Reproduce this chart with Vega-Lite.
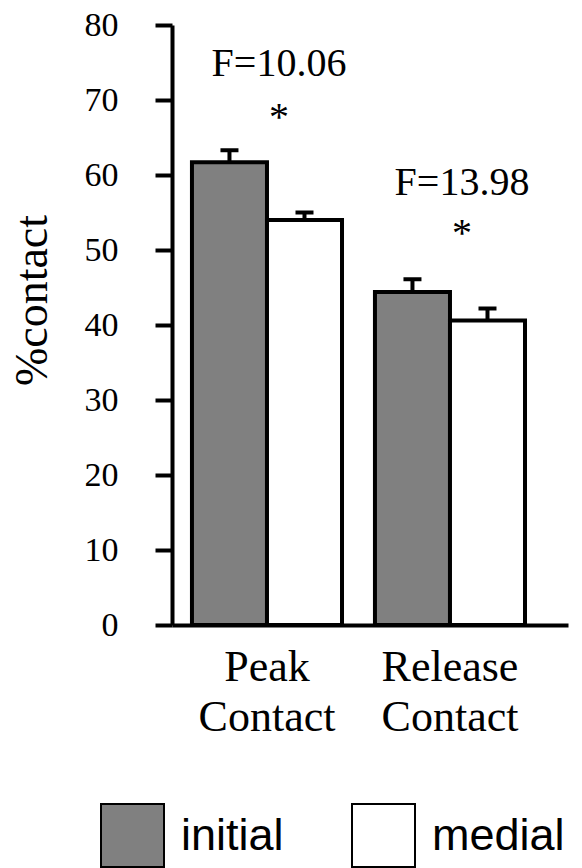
{
  "$schema": "https://vega.github.io/schema/vega-lite/v6.json",
  "width": 396,
  "height": 600,
  "autosize": "none",
  "padding": {"left": 172, "top": 25, "right": 14, "bottom": 243},
  "background": "white",
  "config": {"view": {"stroke": null}, "font": "Liberation Serif"},
  "datasets": {
    "bars": [
      {"group": "Peak Contact", "type": "initial", "value": 61.7, "upper": 63.3},
      {"group": "Peak Contact", "type": "medial", "value": 54.0, "upper": 55.0},
      {"group": "Release Contact", "type": "initial", "value": 44.4, "upper": 46.1},
      {"group": "Release Contact", "type": "medial", "value": 40.6, "upper": 42.2}
    ],
    "notes": [
      {"group": "Peak Contact", "label": "F=10.06", "y": 73.2},
      {"group": "Peak Contact", "label": "*", "y": 66.0},
      {"group": "Release Contact", "label": "F=13.98", "y": 57.3},
      {"group": "Release Contact", "label": "*", "y": 50.6}
    ]
  },
  "layer": [
    {
      "data": {"name": "bars"},
      "mark": {"type": "rule", "stroke": "black", "strokeWidth": 4},
      "encoding": {
        "x": {"field": "group", "type": "nominal"},
        "xOffset": {"field": "type", "type": "nominal"},
        "y": {"field": "value", "type": "quantitative"},
        "y2": {"field": "upper"}
      }
    },
    {
      "data": {"name": "bars"},
      "mark": {"type": "tick", "color": "black", "thickness": 4, "size": 18, "opacity": 1},
      "encoding": {
        "x": {"field": "group", "type": "nominal"},
        "xOffset": {"field": "type", "type": "nominal"},
        "y": {"field": "upper", "type": "quantitative"}
      }
    },
    {
      "data": {"name": "bars"},
      "mark": {"type": "bar", "stroke": "black", "strokeWidth": 4, "opacity": 1},
      "encoding": {
        "x": {
          "field": "group", "type": "nominal", "sort": null,
          "scale": {"paddingInner": 0.18, "paddingOuter": 0.172, "align": 0.317},
          "axis": {
            "title": null,
            "labelAngle": 0,
            "labelAlign": "center",
            "labelBaseline": "top",
            "labelExpr": "split(datum.label, ' ')",
            "labelFont": "Liberation Serif",
            "labelFontSize": 44,
            "labelColor": "black",
            "labelLineHeight": 50,
            "labelPadding": 20,
            "ticks": false,
            "domainColor": "black",
            "domainWidth": 4
          }
        },
        "xOffset": {"field": "type", "type": "nominal", "sort": ["initial", "medial"], "scale": {"paddingInner": 0, "paddingOuter": 0}},
        "y": {
          "field": "value", "type": "quantitative",
          "scale": {"domain": [0, 80], "nice": false},
          "axis": {
            "title": "%contact",
            "titleFont": "Liberation Serif",
            "titleFontSize": 46,
            "titleFontWeight": "normal",
            "titleColor": "black",
            "titleX": -140,
            "titleY": 275,
            "titleAngle": -90,
            "titleAlign": "center",
            "titleBaseline": "middle",
            "values": [0, 10, 20, 30, 40, 50, 60, 70, 80],
            "grid": false,
            "labelFont": "Liberation Serif",
            "labelFontSize": 34,
            "labelColor": "black",
            "labelPadding": 37,
            "tickSize": 17,
            "tickWidth": 4,
            "tickColor": "black",
            "domainColor": "black",
            "domainWidth": 4
          }
        },
        "fill": {
          "field": "type", "type": "nominal",
          "scale": {"domain": ["initial", "medial"], "range": ["#808080", "#ffffff"]},
          "legend": {
            "title": null,
            "orient": "none",
            "direction": "horizontal",
            "legendX": -72,
            "legendY": 778,
            "symbolType": "square",
            "symbolSize": 3969,
            "symbolStrokeColor": "black",
            "symbolStrokeWidth": 2,
            "labelFont": "Liberation Sans",
            "labelFontSize": 45,
            "labelColor": "black",
            "labelOffset": 16,
            "columnPadding": 64,
            "padding": 0
          }
        }
      }
    },
    {
      "data": {"name": "notes"},
      "mark": {"type": "text", "font": "Liberation Serif", "fontSize": 40, "color": "black", "dx": 12, "baseline": "alphabetic", "align": "center"},
      "encoding": {
        "x": {"field": "group", "type": "nominal"},
        "y": {"field": "y", "type": "quantitative"},
        "text": {"field": "label"}
      }
    }
  ]
}
